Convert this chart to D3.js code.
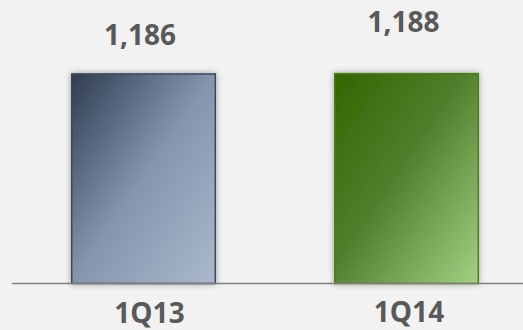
<!DOCTYPE html>
<html>
<head>
<meta charset="utf-8">
<script src="https://cdn.jsdelivr.net/npm/d3@7"></script>
<style>
html,body{margin:0;padding:0;background:#f2f2f2;}
svg{display:block;}
</style>
</head>
<body>
<script>
const categories = ["1Q13", "1Q14"];
const values = [1186, 1188];
const valueLabels = ["1,186", "1,188"];

const W = 523, H = 330;
const svg = d3.select("body").append("svg").attr("width", W).attr("height", H);

svg.append("rect").attr("width", W).attr("height", H).attr("fill", "#f2f2f2");

const defs = svg.append("defs");
const grads = [
  {id: "g0", stops: [["0%", "#2f3c51"], ["50%", "#8496ae"], ["100%", "#abb8cb"]], stroke: "#3b4759"},
  {id: "g1", stops: [["0%", "#336600"], ["45%", "#4f7f2c"], ["100%", "#a3d184"]], stroke: "#4b7d1e"}
];
grads.forEach(g => {
  const lg = defs.append("linearGradient").attr("id", g.id)
    .attr("x1", "0%").attr("y1", "0%").attr("x2", "100%").attr("y2", "100%");
  g.stops.forEach(s => lg.append("stop").attr("offset", s[0]).attr("stop-color", s[1]));
});
const f = defs.append("filter").attr("id", "shadow").attr("x", "-20%").attr("y", "-20%").attr("width", "140%").attr("height", "140%");
f.append("feGaussianBlur").attr("in", "SourceAlpha").attr("stdDeviation", 3).attr("result", "b");
f.append("feOffset").attr("in", "b").attr("dx", 0).attr("dy", 0).attr("result", "o");
f.append("feComponentTransfer").attr("in", "o").attr("result", "s")
  .append("feFuncA").attr("type", "linear").attr("slope", 0.35);
const m = f.append("feMerge");
m.append("feMergeNode").attr("in", "s");
m.append("feMergeNode").attr("in", "SourceGraphic");

const x = d3.scaleBand().domain(categories).range([12, 538]).paddingInner(0.45).paddingOuter(0.225);
const y = d3.scaleLinear().domain([0, 1188]).range([283.5, 73.6]);

svg.selectAll("rect.bar").data(values).enter().append("rect")
  .attr("class", "bar")
  .attr("x", (d, i) => x(categories[i]) + 0.5)
  .attr("y", d => y(d))
  .attr("width", x.bandwidth() - 1)
  .attr("height", d => y(0) - y(d))
  .attr("fill", (d, i) => `url(#${grads[i].id})`)
  .attr("stroke", (d, i) => grads[i].stroke)
  .attr("stroke-width", 1.5)
  .attr("filter", "url(#shadow)");

// baseline axis
const axis = d3.axisBottom(x).tickSize(0).tickFormat("");
const ax = svg.append("g").attr("transform", `translate(0,${y(0)})`).call(axis);
ax.select(".domain").attr("stroke", "#7f7f7f").attr("stroke-width", 1.3).attr("d", `M12,0H${W}`);

const labelLift = [29, 42];
const labelShift = [-3.5, -3];
svg.selectAll("text.val").data(values).enter().append("text")
  .attr("class", "val")
  .attr("x", (d, i) => x(categories[i]) + x.bandwidth() / 2 + labelShift[i])
  .attr("y", (d, i) => y(d) - labelLift[i])
  .attr("text-anchor", "middle")
  .attr("font-family", "'Open Sans', sans-serif")
  .attr("font-weight", "bold")
  .attr("font-size", 28)
  .attr("fill", "#595959")
  .text((d, i) => valueLabels[i]);

const catDrop = [39.5, 38.5];
const catShift = [6, 2.5];
svg.selectAll("text.cat").data(categories).enter().append("text")
  .attr("class", "cat")
  .attr("x", (d, i) => x(d) + x.bandwidth() / 2 + catShift[i])
  .attr("y", (d, i) => y(0) + catDrop[i])
  .attr("text-anchor", "middle")
  .attr("font-family", "'Open Sans', sans-serif")
  .attr("font-weight", "bold")
  .attr("font-size", 28)
  .attr("fill", "#595959")
  .text(d => d);
</script>
</body>
</html>
